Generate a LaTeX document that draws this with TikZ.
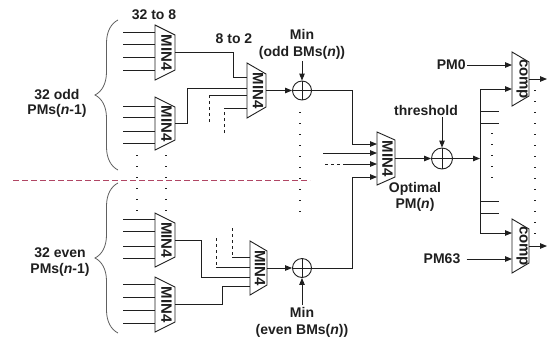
\documentclass[tikz,border=0pt]{standalone}
\usepackage{fontspec}
\setmainfont{Liberation Sans}
\usetikzlibrary{arrows.meta,decorations.pathreplacing,calc}
\definecolor{inkc}{gray}{0.12}
\definecolor{redline}{RGB}{176,70,100}
\newcommand\trapblock[7]{% name, xl, ytop, ybot, xr, inset, text
  \draw[blk] (#2,#3) -- (#5,#3+#6) -- (#5,#4-#6) -- (#2,#4) -- cycle;
  \coordinate (#1-w) at (#2,{(#3+#4)/2});
  \coordinate (#1-e) at (#5,{(#3+#4)/2});
  \node[blktext] (#1) at ({(#2+#5)/2+1.5},{(#3+#4)/2}) {#7};
}
\begin{document}
\begin{tikzpicture}[x=1pt,y=-1pt, color=inkc, line width=0.9pt,
  blk/.style={draw=inkc, fill=white, line width=0.9pt},
  blktext/.style={rotate=-90, inner sep=0pt, text=inkc, font=\bfseries\fontsize{15}{15}\selectfont},
  lbl/.style={inner sep=1pt, text=inkc, font=\bfseries\fontsize{14}{16}\selectfont},
  arr/.style={-{Triangle[length=7pt,width=5.5pt]}},
  adder/.style={circle, draw=inkc, line width=0.9pt, inner sep=0pt, minimum size=19pt,
    path picture={\draw[line width=0.9pt] (path picture bounding box.north) -- (path picture bounding box.south)
      (path picture bounding box.west) -- (path picture bounding box.east);}},
  dots/.style={line width=1.3pt, dash pattern=on 1.3pt off 9.7pt},
  reddash/.style={draw=redline, line width=0.8pt, dash pattern=on 6pt off 3pt},
  brc/.style={decorate, decoration={brace, amplitude=23pt}, draw=gray!75!black, line width=0.8pt}]
\useasboundingbox (0,0) rectangle (548,338);

% separator
\draw[reddash] (13,180) -- (310,180);

% braces and group labels
\draw[brc] (118,170) -- (118,20);
\draw[brc] (118,333) -- (118,183);
\node[lbl] (godd1) at (57,95) {32 odd};
\node[lbl] (godd2) at (57,111) {PMs(\textit{n}-1)};
\node[lbl] (gev1) at (60,253) {32 even};
\node[lbl] (gev2) at (60,270) {PMs(\textit{n}-1)};
\node[lbl] (t328) at (154,15) {32 to 8};
\node[lbl] (t82) at (234,39) {8 to 2};

% first-level MIN4 blocks
\trapblock{b1}{155}{25}{80}{175}{10}{MIN4}
\trapblock{b2}{155}{97}{150}{175}{10}{MIN4}
\trapblock{b3}{155}{213}{267}{175}{10}{MIN4}
\trapblock{b4}{155}{277}{332}{175}{10}{MIN4}
\foreach \y [count=\i] in {32,44,57,70} {\coordinate (ia\i) at (123,\y); \draw (ia\i) -- (ia\i -| b1-w);}
\foreach \y [count=\i] in {106,117,131,143} {\coordinate (ib\i) at (123,\y); \draw (ib\i) -- (ib\i -| b2-w);}
\foreach \y [count=\i] in {219,231,246,258} {\coordinate (ic\i) at (123,\y); \draw (ic\i) -- (ic\i -| b3-w);}
\foreach \y [count=\i] in {284,297,310,323} {\coordinate (id\i) at (123,\y); \draw (id\i) -- (id\i -| b4-w);}
\draw[dots] (137,155) -- (137,212);
\draw[dots] (166,155) -- (166,212);

% second-level MIN4 blocks
\trapblock{c1}{247}{63}{118}{266}{11}{MIN4}
\trapblock{c2}{250}{241}{295}{267}{10}{MIN4}

\coordinate (j1) at (233,77);
\draw (b1-e) -| (j1) -- (j1 -| c1-w);
\coordinate (j2) at (187,88);
\draw (b2-e) -| (j2) -- (j2 -| c1-w);
\coordinate (j3) at (209,95); \coordinate (j3b) at (209,122);
\draw[dashed] (j3b) -- (j3); \draw (j3) -- (j3 -| c1-w);
\coordinate (j4) at (224,108); \coordinate (j4b) at (224,133);
\draw[dashed] (j4b) -- (j4); \draw (j4) -- (j4 -| c1-w);

\coordinate (j5) at (232,257); \coordinate (j5b) at (232,228);
\draw[dashed] (j5b) -- (j5); \draw (j5) -- (j5 -| c2-w);
\coordinate (j6) at (216,267); \coordinate (j6b) at (216,238);
\draw[dashed] (j6b) -- (j6); \draw (j6) -- (j6 -| c2-w);
\coordinate (j7) at (201,277);
\draw (b3-e) -| (j7) -- (j7 -| c2-w);
\coordinate (j8) at (222,286);
\draw (b4-e) -| (j8) -- (j8 -| c2-w);

% adders with min BMs
\node[adder] (a1) at (302,90.5) {};
\node[adder] (a2) at (302,268) {};
\draw[arr] (c1-e) -- (a1);
\draw[arr] (c2-e) -- (a2);
\node[lbl] (m1) at (302,34) {Min};
\node[lbl] (m1b) at (302,53) {(odd BMs(\textit{n}))};
\draw[arr] (m1b.south) -- (a1.north);
\node[lbl] (m2) at (302,312) {Min};
\node[lbl] (m2b) at (302,331) {(even BMs(\textit{n}))};
\draw[arr] (m2.north) -- (a2.south);
\draw[dots] (300,112) -- (300,212);

% final MIN4
\trapblock{d}{377}{132}{185}{395}{8}{MIN4}
\coordinate (r1) at (352,144);
\draw[arr] (a1.east) -| (r1) -- (r1 -| d-w);
\coordinate (r4) at (352,177);
\draw[arr] (a2.east) -| (r4) -- (r4 -| d-w);
\coordinate (r2) at (323,153);
\draw[arr] (r2) -- (r2 -| d-w);
\coordinate (r3) at (325,164); \coordinate (r3b) at (343,164);
\draw[dashed] (r3) -- (r3b); \draw[arr] (r3b) -- (r3b -| d-w);

% threshold adder
\node[adder, minimum size=21pt] (a3) at (442,158.5) {};
\draw[arr] (d-e) -- (a3);
\node[lbl] (th) at (426,110) {threshold};
\draw[arr] (th.south -| a3.north) -- (a3.north);
\node[lbl] (opt1) at (415,189) {Optimal};
\node[lbl] (opt2) at (415,205) {PM(\textit{n})};

% comparators
\trapblock{k1}{512}{52}{106}{529}{10}{comp}
\trapblock{k2}{512}{219}{273}{529}{10}{comp}
\coordinate (bt) at (480,89); \coordinate (bb) at (480,233);
\draw (bt) -- (bb);
\draw[arr] (a3.east) -- (a3.east -| bt);
\draw[arr] (bt) -- (bt -| k1-w);
\draw[arr] (bb) -- (bb -| k2-w);
\foreach \y [count=\i] in {111,123,201,213} {\coordinate (s\i) at (480,\y); \draw (s\i) -- ++(19,0);}
\draw[dots] (492,133) -- (492,180);
\node[lbl, anchor=east] (pm0) at (467,65) {PM0};
\draw[arr] (pm0.east) -- (pm0.east -| k1-w);
\node[lbl] (pm63) at (442,259) {PM63};
\draw[arr, shorten <=5pt] (pm63.east) -- (pm63.east -| k2-w);
\coordinate (o1) at (547,79); \coordinate (o2) at (547,246);
\draw[arr] (k1-e) -- (o1);
\draw[arr] (k2-e) -- (o2);
\draw[dots] (535,90) -- (535,234);
\end{tikzpicture}
\end{document}
